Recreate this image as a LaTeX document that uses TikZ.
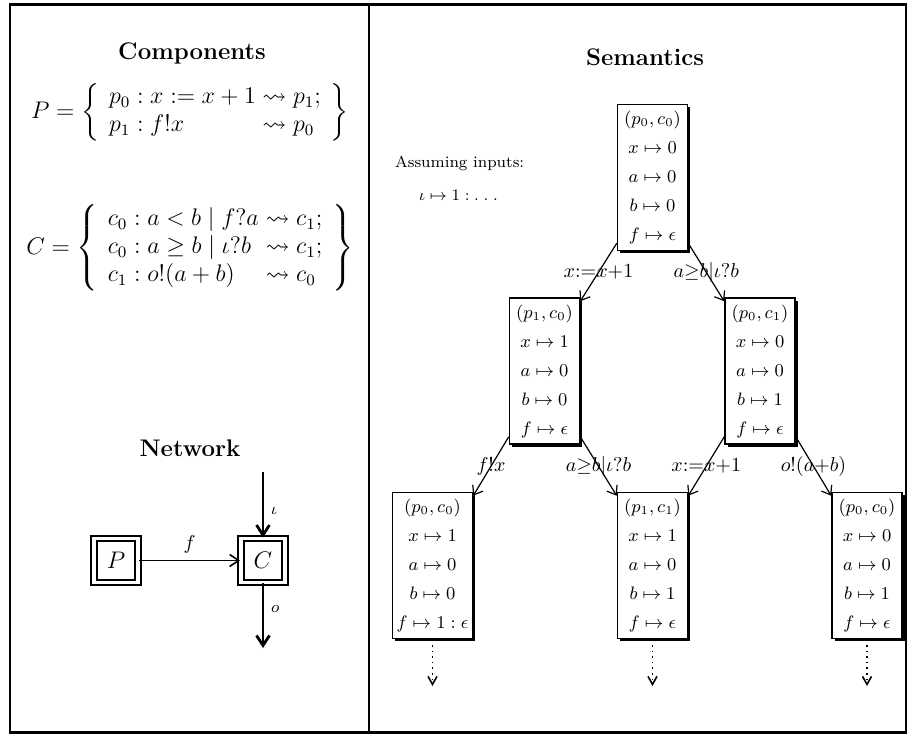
\documentclass[tikz,border=0pt]{standalone}
\usepackage{amsmath,amssymb}
\usetikzlibrary{shadows,calc,arrows.meta}
\begin{document}
\begin{tikzpicture}[x=0.5pt,y=-0.5pt,
  frame/.style={line width=1.3pt},
  paneltitle/.style={font=\large\bfseries},
  statebox/.style={draw, line width=0.8pt, fill=white, minimum width=35pt, minimum height=73pt, align=center, font=\small, inner sep=2pt, drop shadow={opacity=1, fill=black, shadow xshift=1.4pt, shadow yshift=-1.4pt}},
  trans/.style={-{Straight Barb[length=4pt,width=6pt]}, semithick},
  tlabel/.style={midway, font=\normalsize},
  cont/.style={-{Straight Barb[length=4pt,width=4.5pt]}, dotted, thick},
  comp/.style={draw, double, line width=0.9pt, double distance=1.9pt, minimum size=22pt, inner sep=0pt, font=\large},
  chan/.style={-{Straight Barb[length=5pt,width=6.5pt]}, line width=1.4pt},
  chlabel/.style={font=\footnotesize},
]
\useasboundingbox (0,0) rectangle (909,734);
% frame
\draw[frame] (10,4.5) rectangle (906,732.5);
\draw[frame] (369,4.5) -- (369,732.5);

% Components
\node[paneltitle] (comptitle) at (192,53) {Components};
\node[font=\large] (peq) at (190,112) {$P = \left\{\begin{array}{l@{\;}l} p_0 : x := x+1 & \leadsto p_1; \\ p_1 : f!x & \leadsto p_0 \end{array}\right\}$};
\node[font=\large] (ceq) at (190,248) {$C = \left\{\begin{array}{l@{\;}l} c_0 : a < b \mid f?a & \leadsto c_1; \\ c_0 : a \geq b \mid \iota?b & \leadsto c_1; \\ c_1 : o!(a+b) & \leadsto c_0 \end{array}\right\}$};

% Network
\node[paneltitle] (nettitle) at (190,448) {Network};
\node[comp] (P) at (116,560.5) {$P$};
\node[comp] (C) at (263,560.5) {$C$};
\coordinate (iin) at (263,472);
\coordinate (oout) at (263,648);
\draw[-{Straight Barb[length=4.5pt,width=6pt]}, thick] (P) -- node[above, font=\normalsize] {$f$} (C);
\draw[chan] (iin) -- node[right, pos=0.6, chlabel] {$\iota$} (C);
\draw[chan] (C) -- node[right, pos=0.4, chlabel] {$o$} (oout);

% Semantics
\node[paneltitle] (semtitle) at (645,57) {Semantics};
\node[font=\footnotesize, anchor=west] (assume) at (388,163) {Assuming inputs:};
\node[font=\footnotesize, anchor=west] (inputs) at (412,195) {$\iota \mapsto 1 : .\;.\;.$};

\node[statebox] (s0) at (652.5,177.5) {$(p_0, c_0)$\\[3.5pt] $x \mapsto 0$\\[3.5pt] $a \mapsto 0$\\[3.5pt] $b \mapsto 0$\\[3.5pt] $f \mapsto \epsilon$};
\node[statebox] (s1) at (544.5,371) {$(p_1, c_0)$\\[3.5pt] $x \mapsto 1$\\[3.5pt] $a \mapsto 0$\\[3.5pt] $b \mapsto 0$\\[3.5pt] $f \mapsto \epsilon$};
\node[statebox] (s2) at (760,371) {$(p_0, c_1)$\\[3.5pt] $x \mapsto 0$\\[3.5pt] $a \mapsto 0$\\[3.5pt] $b \mapsto 1$\\[3.5pt] $f \mapsto \epsilon$};
\node[statebox] (s3) at (432.5,565.5) {$(p_0, c_0)$\\[3.5pt] $x \mapsto 1$\\[3.5pt] $a \mapsto 0$\\[3.5pt] $b \mapsto 0$\\[3.5pt] $f \mapsto 1 : \epsilon$};
\node[statebox] (s4) at (652.5,565.5) {$(p_1, c_1)$\\[3.5pt] $x \mapsto 1$\\[3.5pt] $a \mapsto 0$\\[3.5pt] $b \mapsto 1$\\[3.5pt] $f \mapsto \epsilon$};
\node[statebox] (s5) at (867,565.5) {$(p_0, c_0)$\\[3.5pt] $x \mapsto 0$\\[3.5pt] $a \mapsto 0$\\[3.5pt] $b \mapsto 1$\\[3.5pt] $f \mapsto \epsilon$};

\draw[trans] ([yshift=4pt]s0.south west) -- node[tlabel] {$x{:=}x{+}1$} ([yshift=-2pt]s1.north east);
\draw[trans] ([yshift=4pt]s0.south east) -- node[tlabel] {$a{\geq}b|\iota?b$} ([yshift=-2pt]s2.north west);
\draw[trans] ([yshift=4pt]s1.south west) -- node[tlabel] {$f!x$} ([yshift=-2pt]s3.north east);
\draw[trans] ([yshift=4pt]s1.south east) -- node[tlabel] {$a{\geq}b|\iota?b$} ([yshift=-2pt]s4.north west);
\draw[trans] ([yshift=4pt]s2.south west) -- node[tlabel] {$x{:=}x{+}1$} ([yshift=-2pt]s4.north east);
\draw[trans] ([yshift=4pt]s2.south east) -- node[tlabel] {$o!(a{+}b)$} ([yshift=-2pt]s5.north west);

\coordinate (e3) at (432.5,686);
\coordinate (e4) at (652.5,686);
\coordinate (e5) at (867,686);
\draw[cont] (s3.south) -- (e3);
\draw[cont] (s4.south) -- (e4);
\draw[cont] (s5.south) -- (e5);
\end{tikzpicture}
\end{document}
